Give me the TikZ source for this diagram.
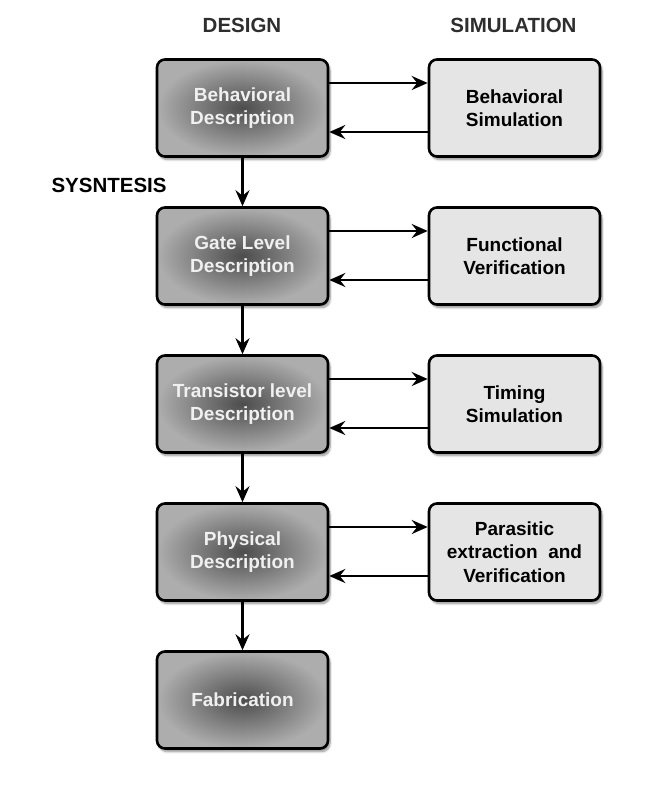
\documentclass[tikz,border=0pt]{standalone}
\usepackage{fontspec}
\setmainfont{Liberation Sans}
\usetikzlibrary{arrows.meta,shadows.blur}
\begin{document}
\begin{tikzpicture}[x=1pt,y=-1pt,
  box/.style={draw=black, line width=2.6pt, rounded corners=8pt,
    minimum width=171pt, minimum height=97pt, align=center,
    font=\fontsize{19}{23.5}\selectfont\bfseries,
    blur shadow={shadow xshift=2pt, shadow yshift=-3pt, shadow blur steps=8, shadow opacity=45}},
  dbox/.style={box, shading=radial, inner color=black!70, outer color=black!32, text=white!94!black},
  lbox/.style={box, fill=black!10, text=black},
  head/.style={font=\fontsize{20.5}{24}\selectfont\bfseries, text=black!82},
  arr/.style={line width=2.7pt, -{Stealth[length=16pt,width=14pt,inset=5.5pt]}}
]
\useasboundingbox (0,0) rectangle (671,798);
\node[head] (hd) at (242,25) {DESIGN};
\node[head] (hs) at (513.5,25) {SIMULATION};
\node[head, anchor=west, text=black] (syn) at (48,185) {SYSNTESIS};

\node[dbox] (d1) at (242.5,108) {Behavioral\\Description};
\node[dbox] (d2) at (242.5,256) {Gate Level\\Description};
\node[dbox] (d3) at (242.5,404) {Transistor level\\Description};
\node[dbox] (d4) at (242.5,552) {Physical\\Description};
\node[dbox] (d5) at (242.5,700) {Fabrication};

\node[lbox] (s1) at (514.5,108) {Behavioral\\Simulation};
\node[lbox] (s2) at (514.5,256) {Functional\\Verification};
\node[lbox] (s3) at (514.5,404) {Timing\\Simulation};
\node[lbox] (s4) at (514.5,552) {Parasitic\\extraction\ \ and\\Verification};

\foreach \a/\b in {d1/d2,d2/d3,d3/d4,d4/d5}
  \draw[arr] (\a) -- (\b);
\foreach \a/\b in {d1/s1,d2/s2,d3/s3,d4/s4}{
  \draw[arr] ([yshift=25pt]\a.east) -- ([yshift=25pt]\b.west);
  \draw[arr] ([yshift=-24pt]\b.west) -- ([yshift=-24pt]\a.east);
}
\end{tikzpicture}
\end{document}
